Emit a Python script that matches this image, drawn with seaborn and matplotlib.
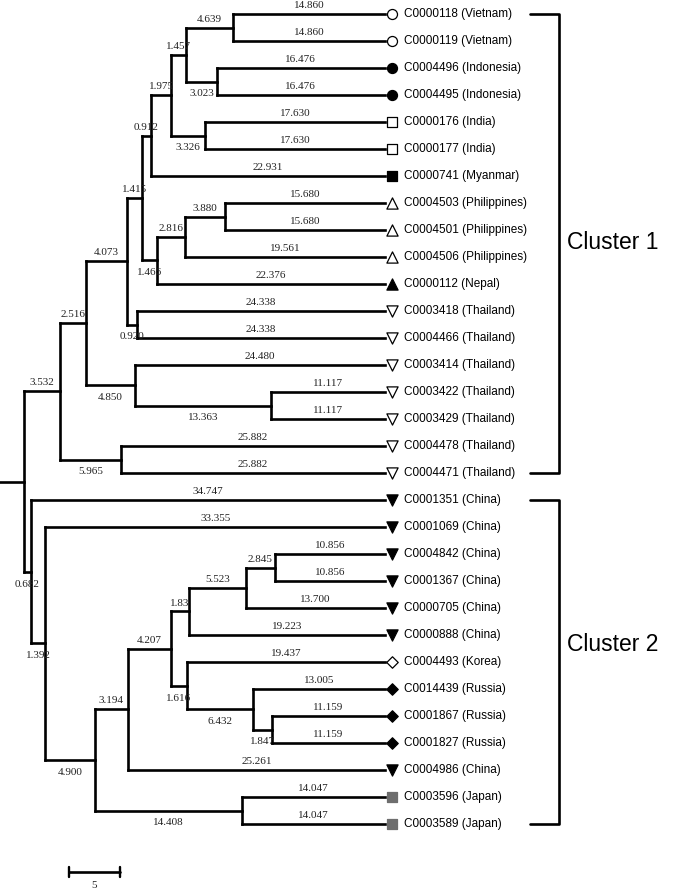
import pandas as pd
import seaborn as sns
import matplotlib.pyplot as plt

# UPGMA tree, branch lengths as printed on the figure
newick = ("(((((((((C0000118:14.860,C0000119:14.860):4.639,(C0004496:16.476,C0004495:16.476):3.023):1.457,"
          "(C0000176:17.630,C0000177:17.630):3.326):1.975,C0000741:22.931):0.912,"
          "(((C0004503:15.680,C0004501:15.680):3.880,C0004506:19.561):2.816,C0000112:22.376):1.466):1.415,"
          "(C0003418:24.338,C0004466:24.338):0.920):4.073,"
          "(C0003414:24.480,(C0003422:11.117,C0003429:11.117):13.363):4.850):2.516,"
          "(C0004478:25.882,C0004471:25.882):5.965):3.532,"
          "(C0001351:34.747,(C0001069:33.355,((((((C0004842:10.856,C0001367:10.856):2.845,C0000705:13.700):5.523,"
          "C0000888:19.223):1.83,(C0004493:19.437,(C0014439:13.005,(C0001867:11.159,C0001827:11.159):1.847):6.432):1.616):4.207,"
          "C0004986:25.261):3.194,(C0003596:14.047,C0003589:14.047):14.408):4.900):1.392):0.682);")

leaf_ids = ['C0000118', 'C0000119', 'C0004496', 'C0004495', 'C0000176', 'C0000177', 'C0000741',
            'C0004503', 'C0004501', 'C0004506', 'C0000112', 'C0003418', 'C0004466', 'C0003414',
            'C0003422', 'C0003429', 'C0004478', 'C0004471', 'C0001351', 'C0001069', 'C0004842',
            'C0001367', 'C0000705', 'C0000888', 'C0004493', 'C0014439', 'C0001867', 'C0001827',
            'C0004986', 'C0003596', 'C0003589']
leaf_countries = ['Vietnam', 'Vietnam', 'Indonesia', 'Indonesia', 'India', 'India', 'Myanmar',
                  'Philippines', 'Philippines', 'Philippines', 'Nepal', 'Thailand', 'Thailand',
                  'Thailand', 'Thailand', 'Thailand', 'Thailand', 'Thailand', 'China', 'China',
                  'China', 'China', 'China', 'China', 'Korea', 'Russia', 'Russia', 'Russia',
                  'China', 'Japan', 'Japan']

cluster_names = ['Cluster 1', 'Cluster 2']
cluster_first = [0, 18]
cluster_last = [17, 30]
scale_len = 5

# marker, face, edge, size per country
country_style = {
    'Vietnam': ('o', 'white', 'black', 52),
    'Indonesia': ('o', 'black', 'black', 52),
    'India': ('s', 'white', 'black', 42),
    'Myanmar': ('s', 'black', 'black', 42),
    'Philippines': ('^', 'white', 'black', 65),
    'Nepal': ('^', 'black', 'black', 65),
    'Thailand': ('v', 'white', 'black', 65),
    'China': ('v', 'black', 'black', 65),
    'Korea': ('D', 'white', 'black', 34),
    'Russia': ('D', 'black', 'black', 34),
    'Japan': ('s', '#6e6e6e', '#6e6e6e', 42),
}


def parse(s):
    pos = 0

    def node():
        nonlocal pos
        children = []
        if s[pos] == '(':
            pos += 1
            children.append(node())
            while s[pos] == ',':
                pos += 1
                children.append(node())
            pos += 1
        start = pos
        while s[pos] not in ':,);':
            pos += 1
        name = s[start:pos]
        length, label = 0.0, ''
        if s[pos] == ':':
            pos += 1
            start = pos
            while s[pos] not in ',);':
                pos += 1
            label = s[start:pos]
            length = float(label)
        return {'name': name, 'len': length, 'label': label, 'children': children}

    return node()


tree = parse(newick)
counter = [0]


def layout(n, x0, first):
    n['x0'] = x0
    n['x1'] = x0 + n['len']
    n['first'] = first
    if not n['children']:
        n['y'] = counter[0]
        counter[0] += 1
    else:
        for i, c in enumerate(n['children']):
            layout(c, n['x1'], i == 0)
        n['y'] = sum(c['y'] for c in n['children']) / len(n['children'])


layout(tree, 0.0, True)

segs = []
labels = []
tips = []


def collect(n):
    sid = len(segs)
    if n['children']:
        ys = [c['y'] for c in n['children']]
        segs.append(pd.DataFrame({'x': [n['x1'], n['x1']], 'y': [min(ys), max(ys)], 'seg': sid}))
        for c in n['children']:
            collect(c)
    if n['label']:
        segs.append(pd.DataFrame({'x': [n['x0'], n['x1']], 'y': [n['y'], n['y']], 'seg': len(segs)}))
        above = n['first'] or not n['children']
        labels.append(((n['x0'] + n['x1']) / 2, n['y'], n['label'], above))
    if not n['children']:
        tips.append((n['name'], n['x1'], n['y']))


collect(tree)
segs.append(pd.DataFrame({'x': [-2.4, 0.0], 'y': [tree['y'], tree['y']], 'seg': len(segs)}))
lines = pd.concat(segs, ignore_index=True)

sns.set_style('white')
fig = plt.figure(figsize=(6.76, 8.9), dpi=100)
ax = fig.add_axes([0, 0, 1, 1])

sns.lineplot(data=lines, x='x', y='y', units='seg', estimator=None, sort=False,
             color='black', lw=1.9, solid_capstyle='projecting', ax=ax, legend=False)

for x, y, lab, above in labels:
    ax.text(x, y - 0.31 if above else y + 0.46, lab, ha='center', va='center',
            fontsize=8, family='Liberation Serif', color='#222222')

tip_x = max(t[1] for t in tips)
tip_y = dict((t[0], t[2]) for t in tips)
tip_df = pd.DataFrame({'id': leaf_ids, 'country': leaf_countries,
                       'y': [tip_y[i] for i in leaf_ids]})
tip_df['x'] = tip_x + 0.68
for country, grp in tip_df.groupby('country'):
    m, fc, ec, s = country_style[country]
    sns.scatterplot(data=grp, x='x', y='y', marker=m, s=s, color=fc, edgecolor=ec,
                    linewidth=0.9, ax=ax, zorder=3, legend=False)
for _, r in tip_df.iterrows():
    ax.text(tip_x + 1.8, r['y'], f"{r['id']} ({r['country']})", ha='left', va='center',
            fontsize=8.5, family='Liberation Sans', color='black')

# cluster brackets
bx0, bx1 = tip_x + 14.2, tip_x + 17.05
text_y = [8.48, 23.37]
for name, a, b, ty in zip(cluster_names, cluster_first, cluster_last, text_y):
    ax.plot([bx0, bx1, bx1, bx0], [a, a, b, b], color='black', lw=1.9)
    ax.text(bx1 + 0.8, ty, name, ha='left', va='center', fontsize=16.5,
            family='Liberation Sans', color='black')

# scale bar
sx0, sy = 4.41, 31.78
ax.plot([sx0, sx0 + scale_len], [sy, sy], color='black', lw=1.9)
ax.plot([sx0, sx0], [sy - 0.19, sy + 0.19], color='black', lw=1.7)
ax.plot([sx0 + scale_len, sx0 + scale_len], [sy - 0.19, sy + 0.19], color='black', lw=1.7)
ax.text(sx0 + scale_len / 2, sy + 0.5, str(scale_len), ha='center', va='center',
        fontsize=8, family='Liberation Serif', color='#222222')

k = 10.2
ax.set_xlim(-24 / k, (676 - 24) / k)
ax.set_ylim((890 - 14) / 27, -14 / 27)
ax.axis('off')

fig.savefig('out.png', dpi=100)
